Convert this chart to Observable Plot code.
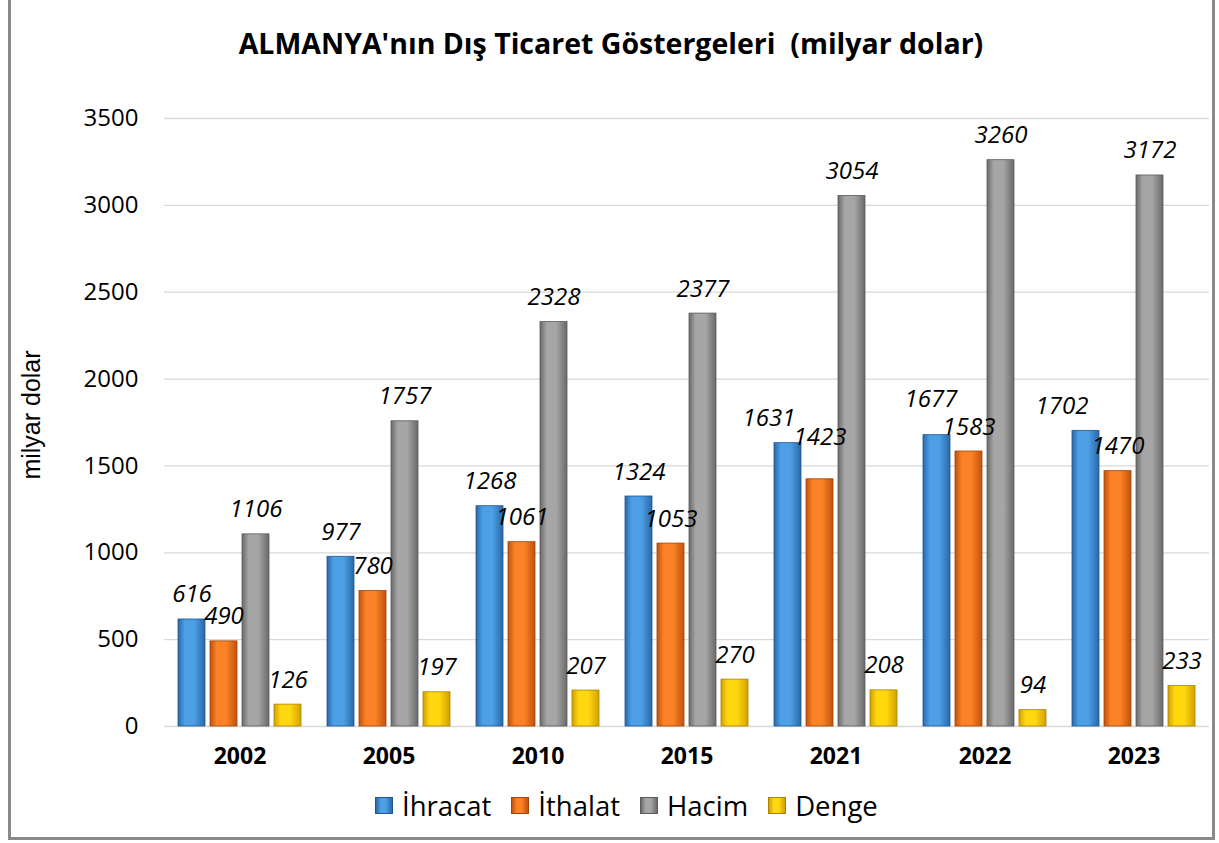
<!DOCTYPE html>
<html>
<head>
<meta charset="utf-8">
<script src="https://cdn.jsdelivr.net/npm/d3@7"></script>
<script src="https://cdn.jsdelivr.net/npm/@observablehq/plot@0.6"></script>
<style>
  html, body { margin: 0; padding: 0; background: #fff; }
  body { width: 1219px; height: 843px; position: relative; overflow: hidden; font-family: "Open Sans", "Noto Sans", sans-serif; }
  #border { position: absolute; left: 8px; top: -6px; width: 1207px; height: 846px; border: 3px solid #8a8a8a; box-sizing: border-box; }
  #title { position: absolute; top: 24px; left: 0; width: 1222px; text-align: center; font-weight: bold; font-size: 28.5px; color: #000; }
  #ylabel { position: absolute; left: 31px; top: 415px; transform: translate(-50%, -50%) rotate(-90deg); font-family: "Liberation Sans", Arial, sans-serif; font-size: 25px; white-space: nowrap; color: #000; }
  .chart { position: absolute; left: 10px; top: 70px; }
  #legend { position: absolute; top: 787px; left: 375px; display: flex; gap: 20px; font-size: 27.5px; color: #000; }
  #legend .item { display: flex; align-items: center; gap: 9px; }
  #legend .sw { width: 18px; height: 17px; display: inline-block; box-sizing: border-box; }
</style>
</head>
<body>
<div id="border"></div>
<div id="title">ALMANYA'nın Dış Ticaret Göstergeleri&nbsp;&nbsp;(milyar dolar)</div>
<div id="ylabel">milyar dolar</div>
<div id="grid" class="chart"></div>
<div id="bars" class="chart"></div>
<div id="legend"></div>
<script>
const years = ["2002", "2005", "2010", "2015", "2021", "2022", "2023"];
const series = ["İhracat", "İthalat", "Hacim", "Denge"];
const ihracat = [616, 977, 1268, 1324, 1631, 1677, 1702];
const ithalat = [490, 780, 1061, 1053, 1423, 1583, 1470];
const hacim = [1106, 1757, 2328, 2377, 3054, 3260, 3172];
const denge = [126, 197, 207, 270, 208, 94, 233];
const yTicks = [0, 500, 1000, 1500, 2000, 2500, 3000, 3500];

// small manual label nudges (as in the reference, where a few labels were moved to avoid collisions)
const labelNudge = { "2021|İhracat": [-19, 0], "2023|İhracat": [-24, 0], "2021|İthalat": [0, -17], "2022|İhracat": [-6, -11] };

const seriesValues = [ihracat, ithalat, hacim, denge];
const data = years.flatMap((yr, i) => series.map((s, j) => ({ year: yr, series: s, value: seriesValues[j][i] })));

const grads = [
  { id: "gBlue", edge: "#2a68a8", mid: "#4da0e6", stroke: "#1f5590" },
  { id: "gOrange", edge: "#c2520c", mid: "#fb8226", stroke: "#a0440a" },
  { id: "gGray", edge: "#6a6a6a", mid: "#a6a6a6", stroke: "#5a5a5a" },
  { id: "gYellow", edge: "#d4a000", mid: "#ffd810", stroke: "#a88400" }
];

const common = {
  width: 1200,
  height: 720,
  marginLeft: 154,
  marginRight: 1,
  marginTop: 48,
  marginBottom: 64,
  style: { fontFamily: "'Open Sans', 'Noto Sans', sans-serif", background: "transparent", color: "#000" }
};

// background layer: continuous gridlines and y axis
const gridPlot = Plot.plot({
  ...common,
  y: { domain: [0, 3500], label: null },
  marks: [
    Plot.gridY(yTicks, { stroke: "#d9d9d9", strokeOpacity: 1, strokeWidth: 1.3 }),
    Plot.axisY(yTicks, { tickSize: 0, tickPadding: 26, fontSize: 24, tickFormat: d => String(d), label: null })
  ]
});
document.getElementById("grid").appendChild(gridPlot);

const key = d => `${d.year}|${d.series}`;

// foreground layer: grouped bars
const plot = Plot.plot({
  ...common,
  fx: { domain: years, paddingInner: 0.163, paddingOuter: 0.08, label: null },
  x: { domain: series, paddingInner: 0.17, paddingOuter: 0, axis: null },
  y: { domain: [0, 3500], axis: null },
  color: { domain: series, range: grads.map(g => `url(#${g.id})`) },
  marks: [
    Plot.axisFx({ anchor: "bottom", tickSize: 0, tickPadding: 21, fontSize: 23, fontWeight: "bold", label: null }),
    Plot.barY(data, { fx: "year", x: "series", y: "value", fill: "series",
      stroke: d => grads[series.indexOf(d.series)].stroke, strokeWidth: 0.8 }),
    ...[false, true].map(nudged => Plot.text(
      data.filter(d => (key(d) in labelNudge) === nudged),
      { fx: "year", x: "series", y: "value", text: d => String(d.value),
        dy: -17, lineAnchor: "bottom", fontStyle: "italic", fontSize: 24, fill: "#000",
        render: nudged ? (index, scales, values, dims, ctx, next) => {
          const g = next(index, scales, values, dims, ctx);
          const rows = data.filter(d => key(d) in labelNudge);
          d3.select(g).selectAll("text").each(function (_, k) {
            const i = index[k];
            const [ddx, ddy] = labelNudge[key(rows[i])];
            const t = d3.select(this);
            const tr = t.attr("transform") || "";
            t.attr("transform", `translate(${ddx},${ddy}) ${tr}`);
          });
          return g;
        } : undefined })
    )
  ]
});

const svgNS = "http://www.w3.org/2000/svg";
const defs = document.createElementNS(svgNS, "defs");
for (const g of grads) {
  const lg = document.createElementNS(svgNS, "linearGradient");
  lg.setAttribute("id", g.id);
  lg.setAttribute("x1", "0"); lg.setAttribute("x2", "1");
  lg.setAttribute("y1", "0"); lg.setAttribute("y2", "0");
  [[0, g.edge], [0.25, g.mid], [0.6, g.mid], [1, g.edge]].forEach(([o, c]) => {
    const st = document.createElementNS(svgNS, "stop");
    st.setAttribute("offset", o);
    st.setAttribute("stop-color", c);
    lg.appendChild(st);
  });
  defs.appendChild(lg);
}
plot.insertBefore(defs, plot.firstChild);
document.getElementById("bars").appendChild(plot);

const legend = document.getElementById("legend");
series.forEach((s, j) => {
  const g = grads[j];
  const item = document.createElement("div");
  item.className = "item";
  const sw = document.createElement("span");
  sw.className = "sw";
  sw.style.background = `linear-gradient(to right, ${g.edge}, ${g.mid} 30%, ${g.mid} 60%, ${g.edge})`;
  sw.style.border = `1px solid ${g.stroke}`;
  const t = document.createElement("span");
  t.textContent = s;
  item.appendChild(sw);
  item.appendChild(t);
  legend.appendChild(item);
});
</script>
</body>
</html>
